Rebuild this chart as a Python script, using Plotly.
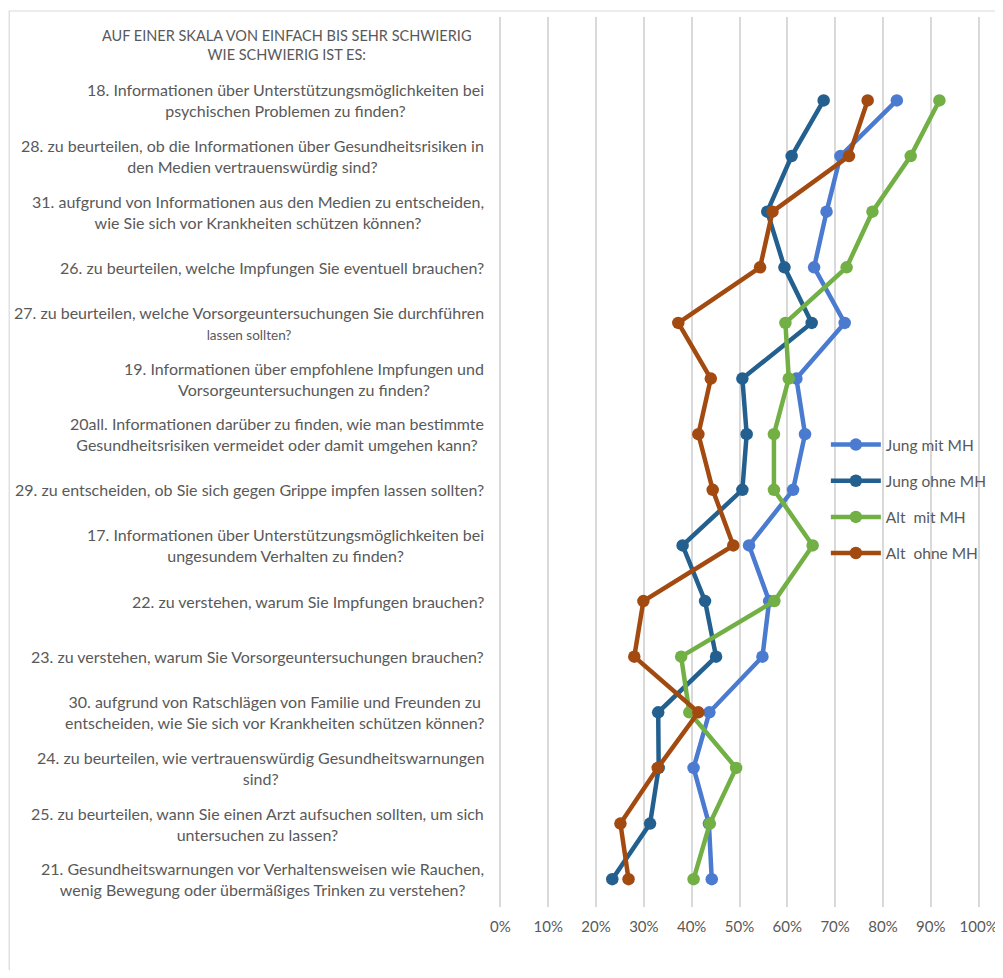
import plotly.graph_objects as go

# ---------------- data ----------------
header = "AUF EINER SKALA VON EINFACH BIS SEHR SCHWIERIG<br>WIE SCHWIERIG IST ES:"
questions = [
    "18. Informationen über Unterstützungsmöglichkeiten bei<br>psychischen Problemen zu finden?",
    "28. zu beurteilen, ob die Informationen über Gesundheitsrisiken in<br>den Medien vertrauenswürdig sind?",
    "31. aufgrund von Informationen aus den Medien zu entscheiden,<br>wie Sie sich vor Krankheiten schützen können?",
    "26. zu beurteilen, welche Impfungen Sie eventuell brauchen?",
    "27. zu beurteilen, welche Vorsorgeuntersuchungen Sie durchführen<br><span style='font-size:13.5px'>lassen sollten?</span>",
    "19. Informationen über empfohlene Impfungen und<br>Vorsorgeuntersuchungen zu finden?",
    "20all. Informationen darüber zu finden, wie man bestimmte<br>Gesundheitsrisiken vermeidet oder damit umgehen kann?",
    "29. zu entscheiden, ob Sie sich gegen Grippe impfen lassen sollten?",
    "17. Informationen über Unterstützungsmöglichkeiten bei<br>ungesundem Verhalten zu finden?",
    "22. zu verstehen, warum Sie Impfungen brauchen?",
    "23. zu verstehen, warum Sie Vorsorgeuntersuchungen brauchen?",
    "30. aufgrund von Ratschlägen von Familie und Freunden zu<br>entscheiden, wie Sie sich vor Krankheiten schützen können?",
    "24. zu beurteilen, wie vertrauenswürdig Gesundheitswarnungen<br>sind?",
    "25. zu beurteilen, wann Sie einen Arzt aufsuchen sollten, um sich<br>untersuchen zu lassen?",
    "21. Gesundheitswarnungen vor Verhaltensweisen wie Rauchen,<br>wenig Bewegung oder übermäßiges Trinken zu verstehen?",
]

series_names = ["Jung mit MH", "Jung ohne MH", "Alt  mit MH", "Alt  ohne MH"]
jung_mit  = [82.9, 71.1, 68.2, 65.6, 72.0, 61.9, 63.7, 61.2, 52.0, 56.2, 54.8, 43.7, 40.4, 43.6, 44.2]
jung_ohne = [67.6, 60.9, 55.8, 59.4, 65.1, 50.6, 51.5, 50.6, 38.1, 42.8, 45.1, 33.0, 33.1, 31.3, 23.4]
alt_mit   = [91.8, 85.8, 77.8, 72.4, 59.6, 60.3, 57.2, 57.2, 65.3, 57.3, 37.8, 39.5, 49.3, 43.8, 40.4]
alt_ohne  = [76.8, 72.9, 56.9, 54.3, 37.2, 44.0, 41.4, 44.4, 48.7, 29.9, 28.0, 41.4, 32.9, 25.1, 26.8]

x_ticks = list(range(0, 101, 10))

colors = ["#4a7bd0", "#23608f", "#72b045", "#a34a10"]
FONT = "Lato"
TEXT = "#595959"

fig = go.Figure()
for i, (name, vals) in enumerate(zip(series_names, [jung_mit, jung_ohne, alt_mit, alt_ohne])):
    fig.add_trace(go.Scatter(
        x=vals, y=questions, name=name, mode="lines+markers",
        line=dict(color=colors[i], width=4.5),
        marker=dict(color=colors[i], size=12.5),
        legendgroup=f"g{i}",
    ))

categories = [header] + questions

# page offset introduced by the default body margin of the html page
OX, OY = 8, 8
W, H = 1003 - OX, 962
# desired page positions: 0% at x=500, 100% at x=979, plot top 17, bottom 907
px_per = 4.79
x_left_page = 500 - 0.5 * px_per
x_right_page = 979 + 0.5 * px_per
L = x_left_page - OX
R = W - (x_right_page - OX)
T = 17 - OY
B = H - (907 - OY)
pw = W - L - R
ph = H - T - B


def pxp(xp):  # page x -> paper x
    return (xp - OX - L) / pw


def pyp(yp):  # page y -> paper y
    return (907 - yp) / ph


fig.update_layout(
    width=W, height=H,
    margin=dict(l=L, r=R, t=T, b=B, autoexpand=False),
    paper_bgcolor="white", plot_bgcolor="white",
    font=dict(family=FONT, color=TEXT, size=14),
    showlegend=True,
    legend=dict(
        x=pxp(826), y=pyp(428), xanchor="left", yanchor="top",
        bgcolor="rgba(0,0,0,0)", font=dict(size=15.5, color=TEXT, family=FONT),
        tracegroupgap=13, itemwidth=50,
    ),
    xaxis=dict(
        range=[-0.5, 100.5], tickvals=x_ticks, ticktext=[f"{v}%" for v in x_ticks],
        showgrid=True, gridcolor="#d9d9d9", gridwidth=1.5,
        zeroline=False, showline=False, ticks="",
        tickfont=dict(size=15, color=TEXT, family=FONT),
        ticklabelstandoff=9,
    ),
    yaxis=dict(
        type="category", categoryorder="array", categoryarray=categories,
        range=[len(categories) - 0.5, -0.5],
        showticklabels=False, showgrid=False, zeroline=False, showline=False, ticks="",
    ),
)

# centered multi-line category labels, right-aligned block next to the plot
for q in questions:
    fig.add_annotation(
        x=pxp(486), xref="paper", y=q, yref="y", text=q, showarrow=False,
        xanchor="right", yanchor="middle", align="center",
        font=dict(size=16, color=TEXT, family=FONT),
    )
fig.add_annotation(
    x=pxp(473), xref="paper", y=header, yref="y", text=header, showarrow=False,
    xanchor="right", yanchor="middle", align="center",
    font=dict(size=14.5, color=TEXT, family=FONT),
)

# outer chart frame
fig.add_shape(
    type="rect", xref="paper", yref="paper",
    x0=pxp(8), x1=pxp(1100), y0=pyp(1100), y1=pyp(11),
    line=dict(color="#d9d9d9", width=1.2), fillcolor="rgba(0,0,0,0)", layer="below",
)

fig.write_html("out.html")
